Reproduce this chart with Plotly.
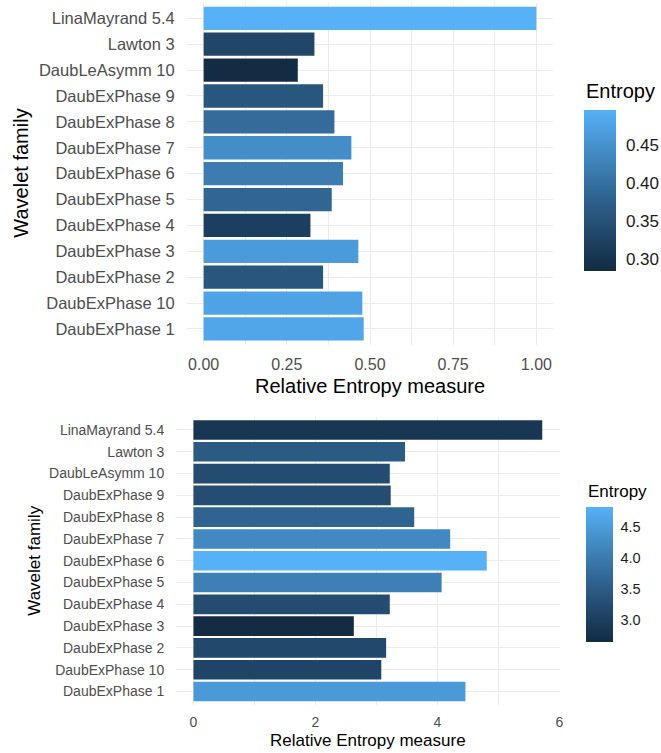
import numpy as np
import plotly.graph_objects as go

# Wavelet families (bottom-to-top order on the category axis)
families = [
    "DaubExPhase 1", "DaubExPhase 10", "DaubExPhase 2", "DaubExPhase 3",
    "DaubExPhase 4", "DaubExPhase 5", "DaubExPhase 6", "DaubExPhase 7",
    "DaubExPhase 8", "DaubExPhase 9", "DaubLeAsymm 10", "Lawton 3",
    "LinaMayrand 5.4",
]

# Upper panel: relative entropy measure and entropy fill
top_relative = [0.481, 0.477, 0.359, 0.465, 0.321, 0.385, 0.419, 0.444,
                0.393, 0.359, 0.283, 0.333, 1.000]
top_entropy = [0.481, 0.477, 0.359, 0.465, 0.321, 0.385, 0.419, 0.444,
               0.393, 0.359, 0.285, 0.333, 0.497]
top_ticks = [0.25 * i for i in range(5)]
top_cbar_ticks = [0.30, 0.35, 0.40, 0.45]

# Lower panel
bot_relative = [4.46, 3.08, 3.16, 2.63, 3.22, 4.07, 4.81, 4.21,
                3.62, 3.235, 3.22, 3.47, 5.72]
bot_entropy = [4.46, 3.08, 3.16, 2.63, 3.22, 4.07, 4.81, 4.21,
               3.62, 3.235, 3.22, 3.47, 2.85]
bot_ticks = [0, 2, 4, 6]
bot_cbar_ticks = [3.0, 3.5, 4.0, 4.5]

W, H = 661, 753
FONT = "Liberation Sans, Arial, sans-serif"
GRID = "#EBEBEB"


# ---- ggplot-like gradient (interpolated in CIELAB) ----
def _hex_rgb(h):
    h = h.lstrip("#")
    return np.array([int(h[i:i + 2], 16) for i in (0, 2, 4)], float)


_M = np.array([[0.4124, 0.3576, 0.1805],
               [0.2126, 0.7152, 0.0722],
               [0.0193, 0.1192, 0.9505]])
_WHITE = np.array([0.95047, 1.0, 1.08883])


def rgb_to_lab(rgb):
    c = rgb / 255.0
    c = np.where(c <= 0.04045, c / 12.92, ((c + 0.055) / 1.055) ** 2.4)
    t = (_M @ c) / _WHITE
    d = 6 / 29
    f = np.where(t > d ** 3, np.cbrt(t), t / (3 * d * d) + 4 / 29)
    return np.array([116 * f[1] - 16, 500 * (f[0] - f[1]), 200 * (f[1] - f[2])])


def lab_to_rgb(lab):
    L, a, b = lab
    fy = (L + 16) / 116
    fx = fy + a / 500
    fz = fy - b / 200
    d = 6 / 29
    f = np.array([fx, fy, fz])
    t = np.where(f > d, f ** 3, 3 * d * d * (f - 4 / 29))
    c = np.linalg.solve(_M, t * _WHITE)
    c = np.clip(c, 0, 1)
    c = np.where(c <= 0.0031308, 12.92 * c, 1.055 * c ** (1 / 2.4) - 0.055)
    return np.clip(np.round(c * 255), 0, 255).astype(int)


lo, hi = rgb_to_lab(_hex_rgb("#132B43")), rgb_to_lab(_hex_rgb("#56B1F7"))
colorscale = []
for s in np.linspace(0, 1, 21):
    r, g, b = lab_to_rgb(lo + (hi - lo) * s)
    colorscale.append([float(s), f"rgb({r},{g},{b})"])

# ---- panel / colour-bar geometry (pixels) ----
top_px = dict(x0=187, x1=553, y0=2.8, y1=344.5)
bot_px = dict(x0=176, x1=559.7, y0=416.9, y1=704.6)
top_bar = dict(x=584.3, y0=110, y1=270.7, thick=32)
bot_bar = dict(x=586.3, y0=507.3, y1=642.7, thick=27)


def xdom(p):
    return [p["x0"] / W, p["x1"] / W]


def ydom(p):
    return [1 - p["y1"] / H, 1 - p["y0"] / H]


fig = go.Figure()
fig.add_trace(go.Bar(
    x=top_relative, y=families, orientation="h", width=0.9,
    marker=dict(color=top_entropy, coloraxis="coloraxis", line=dict(width=0)),
    xaxis="x", yaxis="y", showlegend=False,
))
fig.add_trace(go.Bar(
    x=bot_relative, y=families, orientation="h", width=0.9,
    marker=dict(color=bot_entropy, coloraxis="coloraxis2", line=dict(width=0)),
    xaxis="x2", yaxis="y2", showlegend=False,
))


def xaxis_cfg(p, rng, tickvals, fmt, size, minor_dtick, anchor):
    return dict(
        domain=xdom(p), range=rng, anchor=anchor,
        tickvals=tickvals, tickformat=fmt,
        tickfont=dict(family=FONT, size=size, color="#4D4D4D"),
        ticks="outside", ticklen=5, tickcolor="rgba(0,0,0,0)",
        showgrid=True, gridcolor=GRID, gridwidth=1.1,
        minor=dict(dtick=minor_dtick, tick0=0, showgrid=True,
                   gridcolor=GRID, gridwidth=0.8),
        zeroline=False, showline=False, automargin=False, fixedrange=True,
    )


def yaxis_cfg(p, size, anchor):
    return dict(
        domain=ydom(p), anchor=anchor, type="category",
        categoryorder="array", categoryarray=families,
        range=[-0.6, len(families) - 0.4],
        tickfont=dict(family=FONT, size=size, color="#4D4D4D"),
        ticks="outside", ticklen=8, tickcolor="rgba(0,0,0,0)",
        showgrid=True, gridcolor=GRID, gridwidth=1.1,
        zeroline=False, showline=False, automargin=False, fixedrange=True,
    )


def cbar_cfg(cmin, cmax, bar, tickvals, fmt, tick_size, gap):
    return dict(
        cmin=cmin, cmax=cmax, colorscale=colorscale,
        colorbar=dict(
            x=bar["x"] / W, xanchor="left", xpad=0,
            y=1 - (bar["y0"] + bar["y1"]) / 2 / H, yanchor="middle", ypad=0,
            lenmode="pixels", len=bar["y1"] - bar["y0"],
            thicknessmode="pixels", thickness=bar["thick"],
            outlinewidth=0,
            tickvals=tickvals, tickformat=fmt,
            ticks="outside", ticklen=gap, tickcolor="white",
            tickfont=dict(family=FONT, size=tick_size, color="#1A1A1A"),
        ),
    )


top_cmin, top_cmax = min(top_entropy), max(top_entropy)
bot_cmin, bot_cmax = min(bot_entropy), max(bot_entropy)

fig.update_layout(
    width=W, height=H,
    margin=dict(l=0, r=0, t=0, b=0),
    paper_bgcolor="white", plot_bgcolor="white",
    font=dict(family=FONT),
    xaxis=xaxis_cfg(top_px, [-0.05, 1.05], top_ticks, ".2f", 16, 0.125, "y"),
    yaxis=yaxis_cfg(top_px, 16.5, "x"),
    xaxis2=xaxis_cfg(bot_px, [-0.05 * 5.72, 5.72 * 1.05], bot_ticks, "d", 14, 1, "y2"),
    yaxis2=yaxis_cfg(bot_px, 14, "x2"),
    coloraxis=cbar_cfg(top_cmin, top_cmax, top_bar, top_cbar_ticks, ".2f", 17, 7),
    coloraxis2=cbar_cfg(bot_cmin, bot_cmax, bot_bar, bot_cbar_ticks, ".1f", 14.5, 5),
)

# colour-bar titles and axis titles
annots = [
    dict(text="Entropy", x=top_bar["x"] / W, y=1 - 91 / H, size=20, angle=0, anchor="left"),
    dict(text="Entropy", x=bot_bar["x"] / W, y=1 - 491 / H, size=17, angle=0, anchor="left"),
    dict(text="Relative Entropy measure", x=(top_px["x0"] + top_px["x1"]) / 2 / W,
         y=1 - 386 / H, size=20, angle=0, anchor="center"),
    dict(text="Wavelet family", x=21 / W,
         y=1 - (top_px["y0"] + top_px["y1"]) / 2 / H, size=20, angle=-90, anchor="center"),
    dict(text="Relative Entropy measure", x=(bot_px["x0"] + bot_px["x1"]) / 2 / W,
         y=1 - 740 / H, size=17, angle=0, anchor="center"),
    dict(text="Wavelet family", x=35 / W,
         y=1 - (bot_px["y0"] + bot_px["y1"]) / 2 / H, size=17, angle=-90, anchor="center"),
]
for a in annots:
    fig.add_annotation(text=a["text"], x=a["x"], y=a["y"], xref="paper", yref="paper",
                       xanchor=a["anchor"], yanchor="middle", showarrow=False,
                       textangle=a["angle"],
                       font=dict(family=FONT, size=a["size"], color="#000"))

fig.write_html("out.html")
